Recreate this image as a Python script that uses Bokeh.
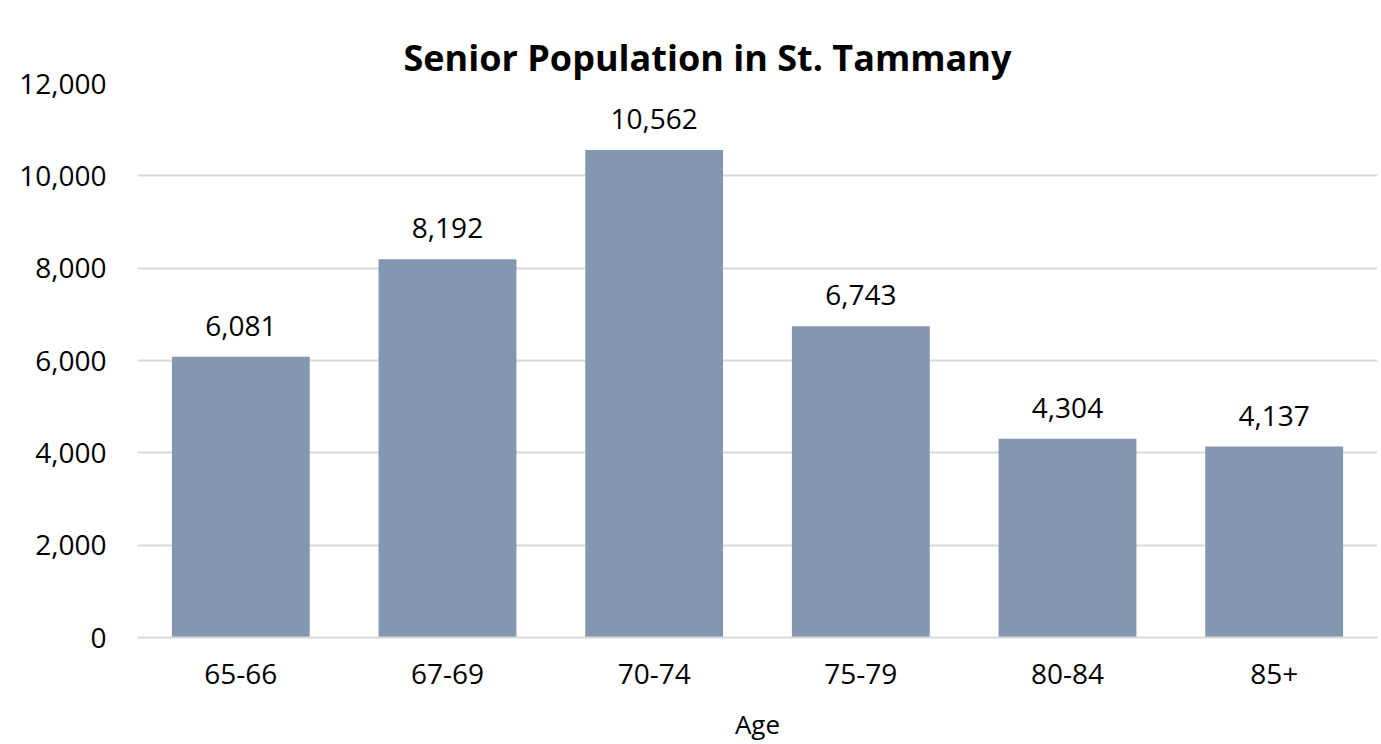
from bokeh.plotting import figure
from bokeh.models import FactorRange, Range1d, NumeralTickFormatter, ColumnDataSource, FixedTicker, Title
from bokeh.core.properties import value
from bokeh.embed import file_html
from bokeh.resources import INLINE

categories = ["65-66", "67-69", "70-74", "75-79", "80-84", "85+"]
population = [6081, 8192, 10562, 6743, 4304, 4137]
y_ticks = [0, 2000, 4000, 6000, 8000, 10000, 12000]

FONT = "Open Sans"
src = ColumnDataSource(dict(cat=categories, val=population,
                            lbl=[f"{v:,}" for v in population]))

p = figure(x_range=FactorRange(*categories, range_padding=0),
           y_range=Range1d(0, 12000),
           width=1378, height=744, output_backend="svg", toolbar_location=None,
           min_border_left=137, min_border_right=1, min_border_top=83, min_border_bottom=103)
p.outline_line_color = None

# built-in title (closest to plot) is used as an invisible spacer
p.title.text = "."
p.title.text_font_size = "10px"
p.title.standoff = 21
p.title.text_alpha = 0

# real title, stacked above the spacer
main_title = Title(text="Senior Population in St. Tammany", align="left", offset=266,
                   vertical_align="top", text_font=FONT, text_font_size="36px",
                   text_font_style="bold", text_color="#000000", standoff=0)
p.add_layout(main_title, "above")

p.vbar(x="cat", top="val", width=0.667, source=src, color="#8497B0", line_color=None)
p.text(x="cat", y="val", text="lbl", source=src, text_align="center", text_baseline="alphabetic",
       y_offset=-31, text_font=value(FONT), text_font_size="28px", text_color="#000000")

p.yaxis.ticker = FixedTicker(ticks=y_ticks)
p.yaxis.formatter = NumeralTickFormatter(format="0,0")
p.yaxis.axis_line_color = None
p.yaxis.major_tick_line_color = None
p.yaxis.minor_tick_line_color = None
p.yaxis.major_label_standoff = 25
p.yaxis.major_label_text_font = FONT
p.yaxis.major_label_text_font_size = "28px"
p.yaxis.major_label_text_color = "#000000"

p.xaxis.axis_line_color = "#D9D9D9"
p.xaxis.axis_line_width = 2
p.xaxis.major_tick_line_color = None
p.xaxis.minor_tick_line_color = None
p.xaxis.major_label_standoff = 20
p.xaxis.major_label_text_font = FONT
p.xaxis.major_label_text_font_size = "28px"
p.xaxis.major_label_text_color = "#000000"
p.xaxis.axis_label = "Age"
p.xaxis.axis_label_text_font = FONT
p.xaxis.axis_label_text_font_size = "26px"
p.xaxis.axis_label_text_font_style = "normal"
p.xaxis.axis_label_text_color = "#000000"
p.xaxis.axis_label_standoff = 19

p.xgrid.grid_line_color = None
p.ygrid.grid_line_color = "#D9D9D9"
p.ygrid.grid_line_width = 2

open("out.html", "w").write(file_html(p, INLINE))
